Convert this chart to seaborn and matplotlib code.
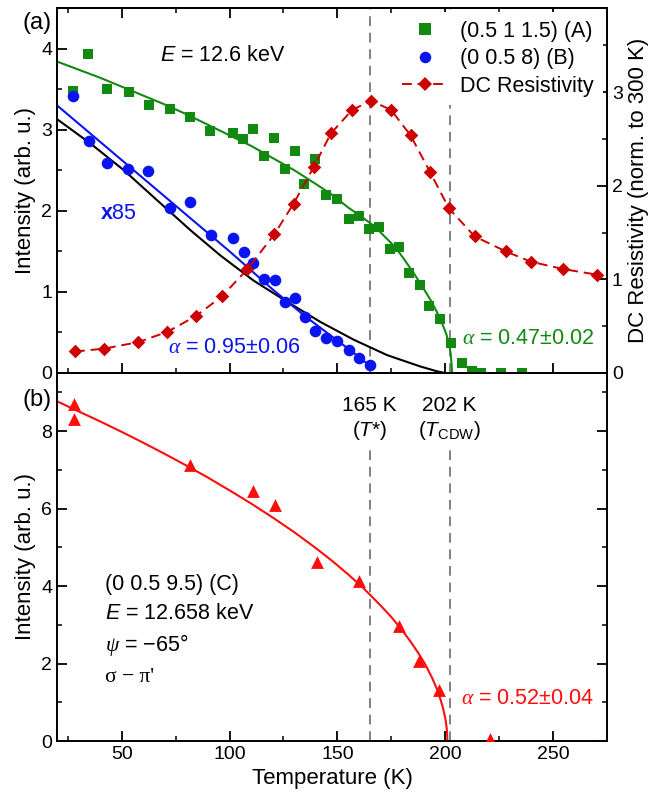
import matplotlib
matplotlib.use("Agg")
import matplotlib.pyplot as plt
import seaborn as sns
from matplotlib.lines import Line2D
from matplotlib.ticker import MultipleLocator

# ---------------- data ----------------
# (0.5 1 1.5) (A)
T_A = [27.6, 34.5, 43.4, 53.6, 62.6, 72.5, 81.7, 91.0, 101.4, 106.2, 111.1, 116.1,
       120.7, 125.5, 130.2, 134.7, 139.8, 144.9, 149.8, 155.3, 160.0, 164.5, 169.2,
       174.3, 178.5, 183.4, 188.1, 192.7, 197.5, 202.5, 207.6, 212.5, 216.7, 226.0, 235.7]
I_A = [3.48, 3.93, 3.50, 3.47, 3.31, 3.26, 3.16, 2.98, 2.96, 2.89, 3.01, 2.67,
       2.90, 2.52, 2.74, 2.33, 2.64, 2.19, 2.15, 1.90, 1.93, 1.77, 1.80,
       1.53, 1.55, 1.23, 1.08, 0.82, 0.66, 0.37, 0.12, 0.02, 0.0, 0.0, 0.0]
# fit curve for A
TF_A = [20, 30, 40, 50, 60, 70, 80, 90, 100, 110, 120, 130, 140, 148, 155, 160,
        167.6, 172, 176.9, 181, 185.4, 189.5, 193.2, 196, 198.6, 200.5, 201.7, 202.5, 202.9, 203.2]
IF_A = [3.84, 3.74, 3.64, 3.53, 3.42, 3.31, 3.19, 3.06, 2.93, 2.80, 2.65, 2.50, 2.33, 2.19, 2.04, 1.95,
        1.80, 1.68, 1.55, 1.40, 1.23, 1.06, 0.90, 0.76, 0.61, 0.48, 0.37, 0.24, 0.12, 0.0]

# (0 0.5 8) (B), x85
T_B = [27.3, 35.0, 43.4, 52.8, 62.4, 72.5, 81.7, 91.3, 101.4, 106.5, 111.1, 115.8,
       120.9, 125.5, 130.5, 135.1, 139.8, 144.9, 149.8, 155.2, 159.9, 165.0]
I_B = [3.41, 2.86, 2.59, 2.52, 2.49, 2.04, 2.11, 1.70, 1.67, 1.49, 1.35, 1.16,
       1.15, 0.88, 0.92, 0.69, 0.52, 0.43, 0.39, 0.28, 0.18, 0.10]
TF_B = [20, 40, 60, 80, 100, 120, 135, 150, 160, 165.3]
IF_B = [3.30, 2.85, 2.40, 1.95, 1.50, 1.03, 0.70, 0.40, 0.20, 0.08]

# black reference curve
TF_K = [20, 35.5, 51, 66.4, 81.9, 95.7, 111.1, 126.6, 142.1, 157.6, 173.1, 188.5, 196.3, 200]
IF_K = [3.13, 2.83, 2.50, 2.13, 1.76, 1.45, 1.14, 0.88, 0.63, 0.41, 0.22, 0.08, 0.02, 0.0]

# DC resistivity (right axis)
T_R = [28.4, 41.8, 57.7, 71.2, 84.5, 96.5, 108.3, 120.7, 129.7, 139.0, 147.0,
       156.8, 165.6, 174.9, 183.9, 192.9, 201.7, 213.6, 228.0, 239.6, 254.8, 270.5]
R_DC = [0.23, 0.26, 0.33, 0.44, 0.61, 0.82, 1.11, 1.48, 1.81, 2.20, 2.56,
        2.81, 2.91, 2.81, 2.54, 2.15, 1.76, 1.46, 1.30, 1.19, 1.11, 1.05]

# (0 0.5 9.5) (C)
T_C = [27.9, 27.9, 81.7, 111.1, 121.2, 140.6, 159.9, 178.5, 187.7, 197.0, 220.7]
I_C = [8.70, 8.32, 7.12, 6.46, 6.09, 4.62, 4.13, 2.96, 2.07, 1.32, 0.05]
TF_C = [20, 30, 40, 50, 60, 70, 80, 90, 100, 110, 120, 130, 140, 148, 155, 162, 170,
        175, 180, 184, 188, 191, 194, 196, 198, 199, 200, 200.4, 200.7, 200.85, 201]
IF_C = [8.77, 8.51, 8.25, 7.98, 7.70, 7.41, 7.11, 6.80, 6.47, 6.13, 5.77, 5.39, 4.98, 4.63, 4.30, 3.95, 3.50,
        3.20, 2.86, 2.56, 2.23, 1.95, 1.62, 1.36, 1.04, 0.84, 0.59, 0.45, 0.31, 0.22, 0.0]

T_LINES = [165, 202]
LINE_LABELS = [r"($\mathit{T}$*)", r"($\mathit{T}_{\mathrm{CDW}}$)"]

GREEN = "#128a12"
BLUE = "#0a14f0"
DRED = "#cc0000"
RED = "#ff0d0d"
GRAY = "#808080"

# ---------------- style ----------------
sns.set_theme(style="ticks")
plt.rcParams.update({
    "font.family": ["Liberation Sans", "DejaVu Sans"],
    "mathtext.fontset": "custom",
    "mathtext.rm": "Liberation Sans",
    "mathtext.it": "Liberation Sans:italic",
    "mathtext.bf": "Liberation Sans:bold",
    "mathtext.sf": "Liberation Serif:italic",
    "text.color": "black",
    "axes.labelcolor": "black",
    "axes.edgecolor": "black",
    "axes.linewidth": 1.4,
    "xtick.color": "black",
    "ytick.color": "black",
    "xtick.direction": "in",
    "ytick.direction": "in",
    "xtick.major.size": 7,
    "ytick.major.size": 7,
    "xtick.minor.size": 3.5,
    "ytick.minor.size": 3.5,
    "xtick.major.width": 1.3,
    "ytick.major.width": 1.3,
    "xtick.minor.width": 1.1,
    "ytick.minor.width": 1.1,
    "xtick.labelsize": 14,
    "ytick.labelsize": 14,
    "axes.labelsize": 16,
})

fig = plt.figure(figsize=(6.6, 7.97), dpi=100)
ax1 = fig.add_axes([57 / 660, 1 - 373 / 797, 550 / 660, 365 / 797])
ax2 = fig.add_axes([57 / 660, 1 - 741 / 797, 550 / 660, 368 / 797])
ax1r = ax1.twinx()

XLIM = (20, 275)

# ---------------- panel (a) ----------------
for t in T_LINES:
    ax1.axvline(t, color=GRAY, lw=1.4, ls=(0, (5, 3.5)), zorder=1)

sns.lineplot(x=TF_K, y=IF_K, ax=ax1, color="black", lw=1.5, estimator=None, zorder=2)
sns.lineplot(x=TF_B, y=IF_B, ax=ax1, color=BLUE, lw=1.5, estimator=None, zorder=2)
sns.lineplot(x=TF_A, y=IF_A, ax=ax1, color=GREEN, lw=1.5, estimator=None, zorder=2)
sns.scatterplot(x=T_A, y=I_A, ax=ax1, marker="s", color=GREEN, s=62, linewidth=0, zorder=3)
sns.scatterplot(x=T_B, y=I_B, ax=ax1, marker="o", color=BLUE, s=70, linewidth=0, zorder=3)

ax1.set_xlim(*XLIM)
ax1.set_ylim(0, 4.5)
ax1.xaxis.set_major_locator(MultipleLocator(50))
ax1.xaxis.set_minor_locator(MultipleLocator(25))
ax1.yaxis.set_major_locator(MultipleLocator(1))
ax1.yaxis.set_minor_locator(MultipleLocator(0.5))
ax1.tick_params(which="both", top=True, bottom=True, labelbottom=False, right=False)
ax1.set_ylabel("Intensity (arb. u.)")
ax1.set_xlabel("")

sns.lineplot(x=T_R, y=R_DC, ax=ax1r, color=DRED, lw=1.4, estimator=None,
             linestyle=(0, (5, 3)), zorder=2)
sns.scatterplot(x=T_R, y=R_DC, ax=ax1r, marker="D", color=DRED, s=48, linewidth=0, zorder=3)
ax1r.set_ylim(0, 3.9)
ax1r.yaxis.set_major_locator(MultipleLocator(1))
ax1r.yaxis.set_minor_locator(MultipleLocator(0.5))
ax1r.tick_params(which="both", right=True, direction="in")
ax1r.set_ylabel("DC Resistivity (norm. to 300 K)", fontsize=16)
ax1r.set_xlim(*XLIM)

handles = [
    Line2D([], [], marker="s", ls="none", color=GREEN, ms=8, mew=0),
    Line2D([], [], marker="o", ls="none", color=BLUE, ms=8.3, mew=0),
    Line2D([], [], marker="D", color=DRED, ms=7, mew=0, lw=1.4, ls=(0, (5, 3))),
]
labels = ["(0.5 1 1.5) (A)", "(0 0.5 8) (B)", "DC Resistivity"]
leg = ax1r.legend(handles, labels, loc="upper right", frameon=True, facecolor="white",
                  edgecolor="none", framealpha=1, fontsize=15.5, handlelength=2.1,
                  handletextpad=0.6, labelspacing=0.3, borderpad=0.4, borderaxespad=0.2)

ax1.text(67.8, 3.91, r"$\mathit{E}$ = 12.6 keV", fontsize=15.5, va="center", ha="left")
ax1.text(40, 1.97, r"$\mathbf{x}$85", fontsize=15.5, color=BLUE, va="center", ha="left")
ax1.text(71.5, 0.32, r"$\mathsf{\alpha}$ = 0.95±0.06", fontsize=15.5, color=BLUE,
         va="center", ha="left")
ax1.text(208, 0.43, r"$\mathsf{\alpha}$ = 0.47±0.02", fontsize=15.5, color=GREEN,
         va="center", ha="left")

# ---------------- panel (b) ----------------
ax2.vlines(T_LINES, 0, 7.56, color=GRAY, lw=1.4, linestyles=[(0, (5, 3.5))], zorder=1)
for t, lab in zip(T_LINES, LINE_LABELS):
    ax2.text(t, 8.65, f"{t} K", fontsize=15, ha="center", va="center")
    ax2.text(t, 8.02, lab, fontsize=15, ha="center", va="center")

sns.lineplot(x=TF_C, y=IF_C, ax=ax2, color=RED, lw=1.5, estimator=None, zorder=2)
sns.scatterplot(x=T_C, y=I_C, ax=ax2, marker="^", color=RED, s=85, linewidth=0, zorder=3)

ax2.set_xlim(*XLIM)
ax2.set_ylim(0, 9.5)
ax2.xaxis.set_major_locator(MultipleLocator(50))
ax2.xaxis.set_minor_locator(MultipleLocator(25))
ax2.yaxis.set_major_locator(MultipleLocator(2))
ax2.yaxis.set_minor_locator(MultipleLocator(1))
ax2.tick_params(which="both", top=False, bottom=True, right=True, left=True)
ax2.set_xlabel("Temperature (K)")
ax2.set_ylabel("Intensity (arb. u.)")

ax2.text(42.3, 4.04, "(0 0.5 9.5) (C)", fontsize=15.5, va="center", ha="left")
ax2.text(42.3, 3.29, r"$\mathit{E}$ = 12.658 keV", fontsize=15.5, va="center", ha="left")
ax2.text(42.3, 2.49, r"$\mathsf{\psi}$ = −65°", fontsize=15.5, va="center", ha="left")
ax2.text(42.3, 1.63, "σ − π'", fontsize=15.5, va="center", ha="left",
         family=["Liberation Serif", "DejaVu Serif"])
ax2.text(207.1, 1.11, r"$\mathsf{\alpha}$ = 0.52±0.04", fontsize=15.5, color=RED,
         va="center", ha="left")

fig.text(22 / 660, 1 - 23 / 797, "(a)", fontsize=17, va="center", ha="left")
fig.text(22 / 660, 1 - 400 / 797, "(b)", fontsize=17, va="center", ha="left")

fig.savefig("out.png", dpi=100)
